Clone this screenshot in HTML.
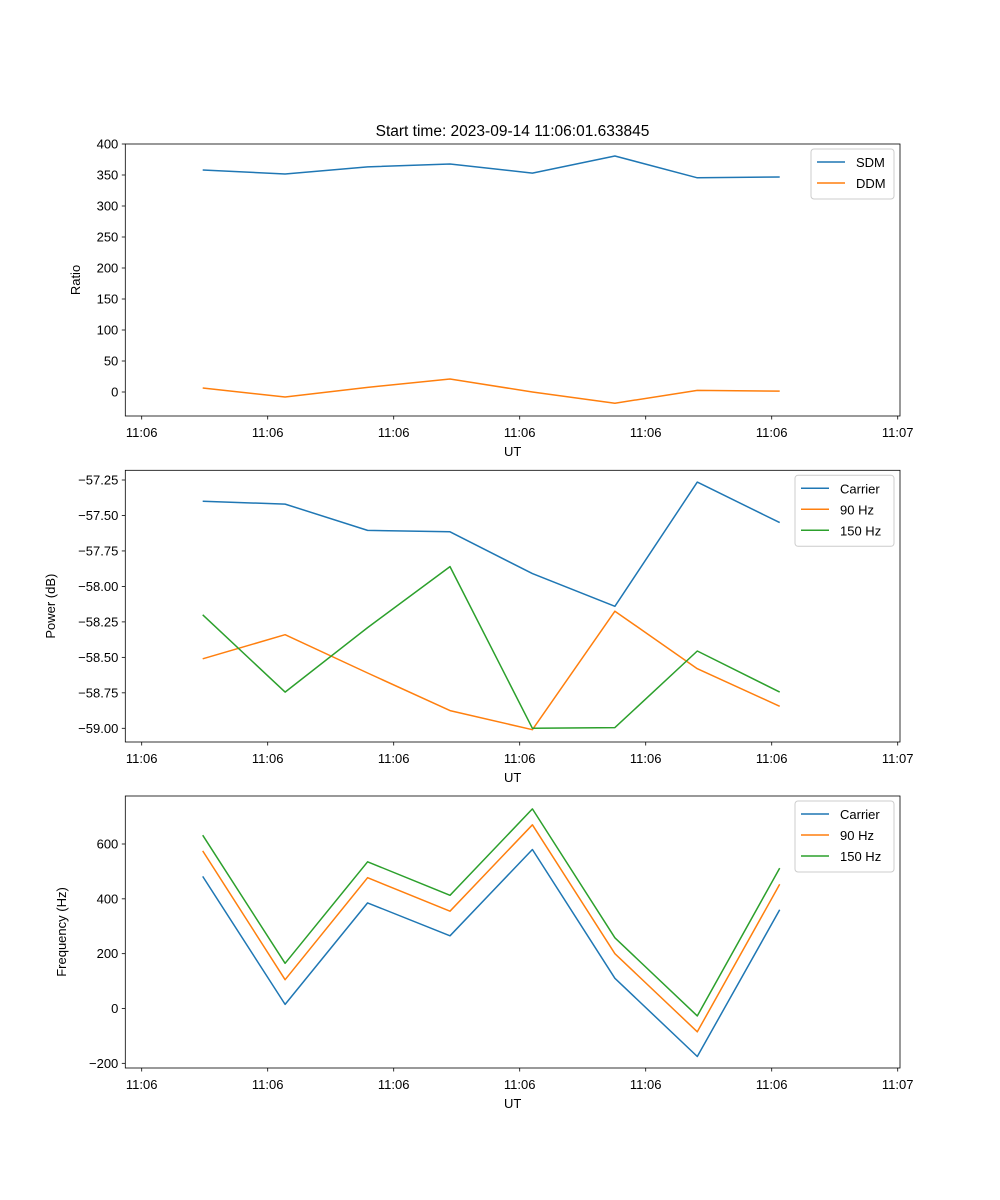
<!DOCTYPE html>
<html><head><meta charset="utf-8"><style>
body{margin:0;background:#fff;}
svg{display:block;font-family:"Liberation Sans","DejaVu Sans",sans-serif;}
</style></head><body>
<svg id="fig" width="1000" height="1200" viewBox="0 0 1000 1200"></svg>
<script>
const xIdx = [0,1,2,3,4,5,6,7];
const xTickVals = [-0.74,0.7886,2.3172,3.8458,5.3744,6.903,8.4316];
const xTickLabels = ["11:06","11:06","11:06","11:06","11:06","11:06","11:07"];
const sdm = [358,351.6,363,367.7,353,380.6,345.5,346.8];
const ddm = [6.5,-8,7.5,21,0,-18,2.5,1.5];
const p1Ticks = [0,50,100,150,200,250,300,350,400];
const pwrCarrier = [-57.40,-57.42,-57.605,-57.615,-57.91,-58.14,-57.265,-57.55];
const pwr90 = [-58.51,-58.34,-58.61,-58.875,-59.01,-58.175,-58.58,-58.845];
const pwr150 = [-58.20,-58.745,-58.29,-57.86,-59.0,-58.995,-58.455,-58.745];
const p2Ticks = [-57.25,-57.5,-57.75,-58.0,-58.25,-58.5,-58.75,-59.0];
const p2Labels = ["\u221257.25","\u221257.50","\u221257.75","\u221258.00","\u221258.25","\u221258.50","\u221258.75","\u221259.00"];
const frqCarrier = [482,15,385,265,580,110,-175,360];
const frq90 = [575,105,477,355,670,200,-85,453];
const frq150 = [632,165,535,413,728,258,-27,512];
const p3Ticks = [-200,0,200,400,600];
const p3Labels = ["\u2212200","0","200","400","600"];

const NS="http://www.w3.org/2000/svg";
const svg=document.getElementById('fig');
function el(t,a,p){const e=document.createElementNS(NS,t);for(const k in a)e.setAttribute(k,a[k]);(p||svg).appendChild(e);return e;}
const L=125.3,R=900,xs=i=>202.7+i*82.43;
const C=['#1f77b4','#ff7f0e','#2ca02c'];

function panel(name,top,bot,y0,y1,yv0,yv1,ticks,labels,ylabel,series,names,legW){
  const g=el('g',{});
  
  
  const ys=v=>y0+(v-yv0)*(y1-y0)/(yv1-yv0);
  ticks.forEach((t,i)=>{const y=ys(t);
    el('line',{x1:L-3.5,x2:L,y1:y,y2:y,stroke:'#000','stroke-width':0.8},g);
    const tx=el('text',{x:L-7,y:y+4.5,'text-anchor':'end','font-size':13},g);tx.textContent=labels[i];
    
    
  });
  xTickVals.forEach((t,i)=>{const x=xs(t);
    el('line',{x1:x,x2:x,y1:bot,y2:bot+3.5,stroke:'#000','stroke-width':0.8},g);
    const tx=el('text',{x:x,y:bot+21,'text-anchor':'middle','font-size':13},g);tx.textContent=xTickLabels[i];
    
    
  });
  const xl=el('text',{x:(L+R)/2,y:bot+40,'text-anchor':'middle','font-size':13},g);xl.textContent='UT';
  
  
  const yl=el('text',{x:0,y:0,'text-anchor':'middle','font-size':13,transform:`translate(${ylabel[1]},${(top+bot)/2}) rotate(-90)`},g);yl.textContent=ylabel[0];
  
  
  series.forEach((s,k)=>{
    const pts=s.map((v,i)=>xs(xIdx[i]).toFixed(1)+','+ys(v).toFixed(1)).join(' ');
    const pl=el('polyline',{points:pts,fill:'none',stroke:C[k],'stroke-width':1.5,'stroke-linejoin':'round'},g);
    
    
  });
  el('rect',{x:L,y:top,width:R-L,height:bot-top,fill:'none',stroke:'#000','stroke-width':0.8},g);
  const lh=names.length*21+8,lx=R-6-legW,ly=top+5;
  const lg=el('g',{},g);
  
  
  el('rect',{x:lx,y:ly,width:legW,height:lh,rx:3,fill:'#fff',stroke:'#ccc','stroke-width':1},lg);
  names.forEach((n,k)=>{const y=ly+13+k*21;
    el('line',{x1:lx+6,x2:lx+34,y1:y,y2:y,stroke:C[k],'stroke-width':1.5},lg);
    const t=el('text',{x:lx+45,y:y+5,'font-size':13},lg);t.textContent=n;
    
    
  });
}
const ti=el('text',{x:512.5,y:136,'text-anchor':'middle','font-size':15.5});ti.textContent='Start time: 2023-09-14 11:06:01.633845';


panel('ratio-panel',144,416,392,144,0,400,p1Ticks,p1Ticks.map(String),['Ratio',80],[sdm,ddm],['SDM','DDM'],83);
panel('power-panel',470.3,742,480,728.3,-57.25,-59.0,p2Ticks,p2Labels,['Power (dB)',55],[pwrCarrier,pwr90,pwr150],['Carrier','90 Hz','150 Hz'],99);
panel('frequency-panel',796,1068,1008.5,844,0,600,p3Ticks,p3Labels,['Frequency (Hz)',66],[frqCarrier,frq90,frq150],['Carrier','90 Hz','150 Hz'],99);
</script>
</body></html>
